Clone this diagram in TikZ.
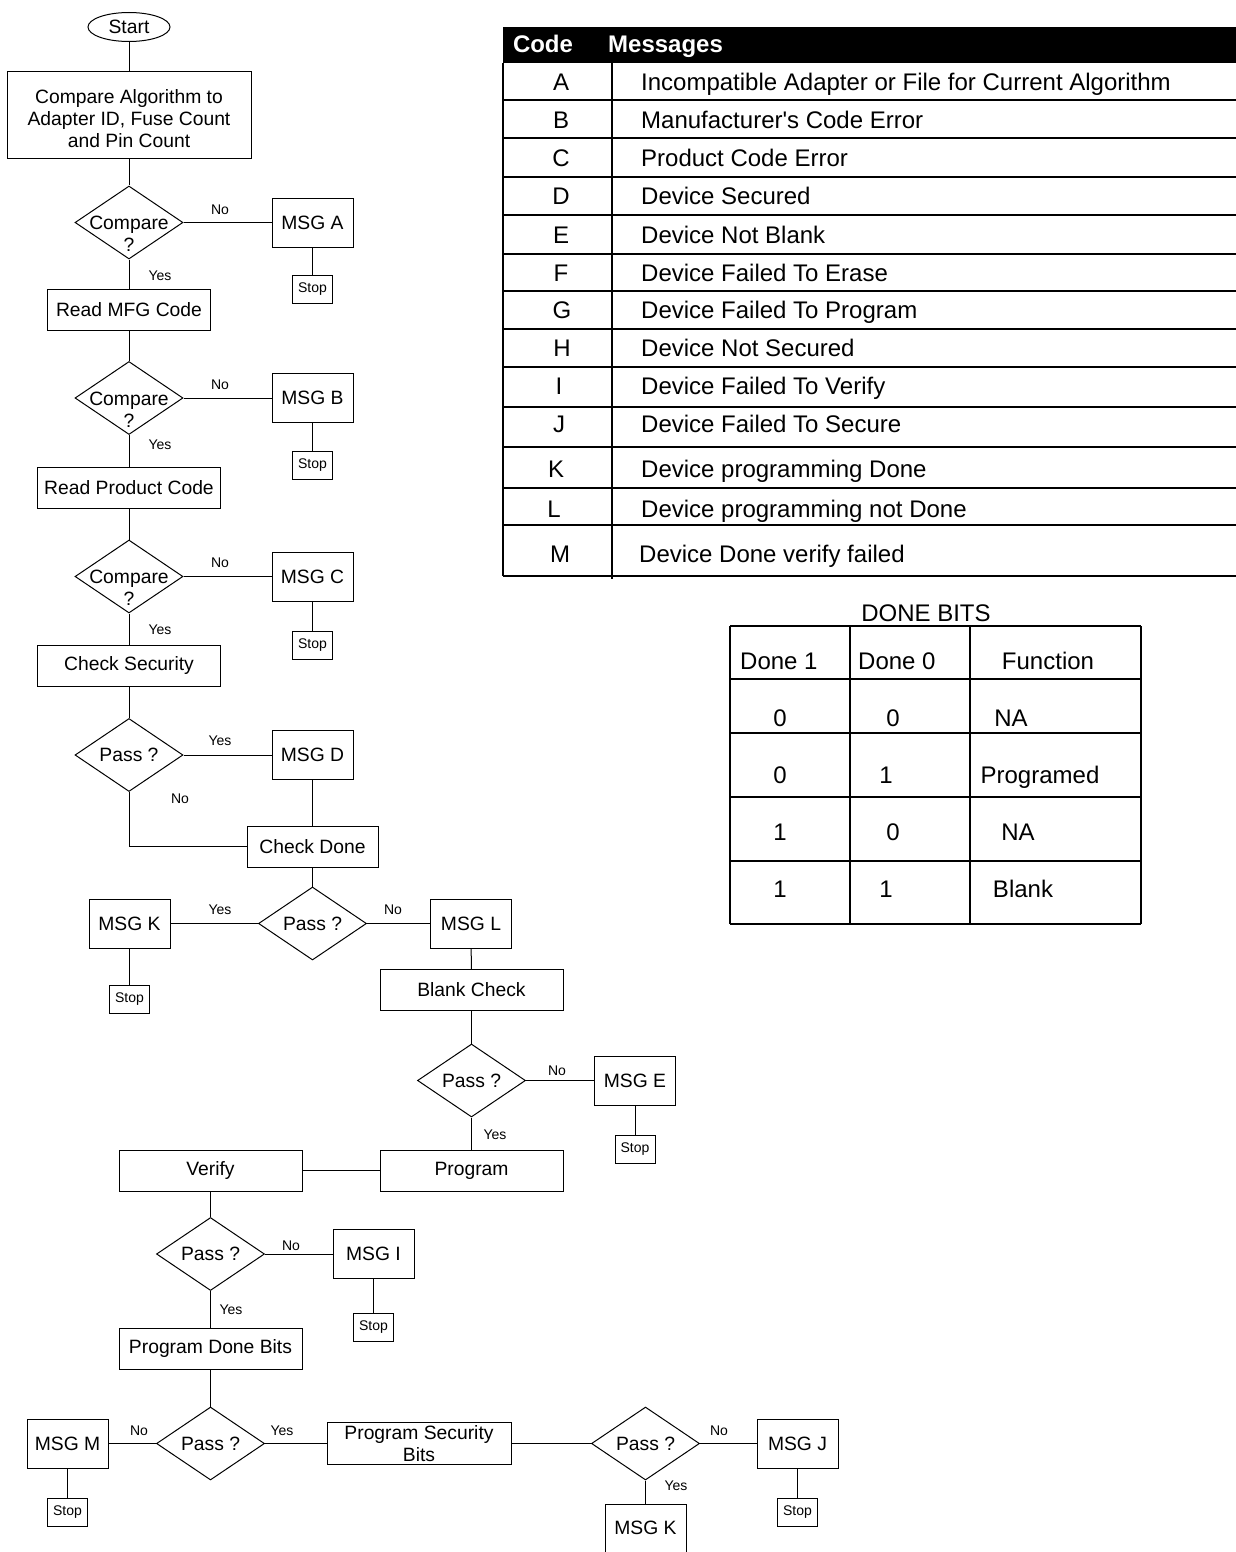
\documentclass[tikz,border=0pt]{standalone}
\usepackage{fontspec}
\setmainfont{Liberation Sans}[Ligatures=TeXOff]
\usetikzlibrary{shapes.geometric}
\begin{document}
\begin{tikzpicture}[x=1pt,y=-1pt,
  every node/.style={inner sep=0pt},
  fc/.style={font=\fontsize{19.3}{22}\selectfont},
  box/.style={draw, line width=1pt, rectangle, fc, align=center},
  stopbox/.style={draw, line width=1pt, rectangle, font=\fontsize{14}{16}\selectfont, minimum width=40pt, minimum height=28pt},
  msgbox/.style={box, minimum width=81pt, minimum height=49pt},
  widebox/.style={box, minimum width=183pt, minimum height=41pt},
  dia/.style={draw, line width=1pt, diamond, minimum width=108pt, minimum height=73pt},
  dtext/.style={fc, align=center},
  lbl/.style={font=\fontsize{14}{16}\selectfont},
  wlbl/.style={lbl, fill=white, inner sep=3pt},
  conn/.style={line width=1pt},
  tb/.style={font=\fontsize{24}{28}\selectfont},
  tline/.style={line width=1.5pt},
]
\useasboundingbox (0,0) rectangle (1236,1552);

% ---------------- flowchart ----------------
\node[draw, line width=1pt, ellipse, minimum width=82pt, minimum height=29pt, fc] (start) at (129,27) {Start};
\node[box, minimum width=244pt, minimum height=86pt] (cmpalg) at (129,115) {};
\node[dtext] (cmpalgt) at (129,119) {Compare Algorithm to\\Adapter ID, Fuse Count\\and Pin Count};

\node[dia] (d1) at (129,222.5) {};
\node[dtext] (d1t) at (129,234) {Compare\\?};
\node[msgbox] (msga) at (312.5,222.5) {MSG A};
\node[stopbox] (stopa) at (312.5,289) {Stop};
\node[box, minimum width=163pt, minimum height=41pt] (readmfg) at (129,309.5) {Read MFG Code};

\node[dia] (d2) at (129,398) {};
\node[dtext] (d2t) at (129,409.5) {Compare\\?};
\node[msgbox] (msgb) at (312.5,398) {MSG B};
\node[stopbox] (stopb) at (312.5,465) {Stop};
\node[widebox] (readprod) at (129,488) {Read Product Code};

\node[dia] (d3) at (129,576.5) {};
\node[dtext] (d3t) at (129,588) {Compare\\?};
\node[msgbox] (msgc) at (312.5,576.5) {MSG C};
\node[stopbox] (stopc) at (312.5,645) {Stop};
\node[widebox] (checksec) at (129,666) {Check Security};

\node[dia] (d4) at (129,755) {};
\node[dtext] (d4t) at (129,755) {Pass ?};
\node[msgbox] (msgd) at (312.5,755) {MSG D};
\node[box, minimum width=131pt, minimum height=41pt] (cdone) at (312.5,846.5) {Check Done};

\node[dia] (d5) at (312.5,923.5) {};
\node[dtext] (d5t) at (312.5,923.5) {Pass ?};
\node[msgbox] (msgk1) at (129.5,923.5) {MSG K};
\node[stopbox] (stopk) at (129.5,999.5) {Stop};
\node[msgbox] (msgl) at (471,923.5) {MSG L};
\node[widebox] (blank) at (471.5,990) {Blank Check};

\node[dia] (d6) at (471.5,1080.5) {};
\node[dtext] (d6t) at (471.5,1080.5) {Pass ?};
\node[msgbox] (msge) at (635,1080.5) {MSG E};
\node[stopbox] (stope) at (635,1149.5) {Stop};
\node[widebox] (program) at (471.5,1170.5) {Program};
\node[widebox] (verify) at (210.5,1170.5) {Verify};

\node[dia] (d7) at (210.5,1254) {};
\node[dtext] (d7t) at (210.5,1254) {Pass ?};
\node[msgbox] (msgi) at (373.5,1254) {MSG I};
\node[stopbox] (stopi) at (373.5,1327.5) {Stop};
\node[widebox] (pdb) at (210.5,1348.5) {Program Done Bits};

\node[dia] (d8) at (210.5,1443.5) {};
\node[dtext] (d8t) at (210.5,1443.5) {Pass ?};
\node[msgbox] (msgm) at (67.5,1443.5) {MSG M};
\node[stopbox] (stopm) at (67.5,1512) {Stop};
\node[box, minimum width=184pt, minimum height=42pt] (psb) at (419,1443.5) {Program Security\\Bits};

\node[dia] (d9) at (645.5,1443.5) {};
\node[dtext] (d9t) at (645.5,1443.5) {Pass ?};
\node[msgbox] (msgj) at (797.5,1443.5) {MSG J};
\node[stopbox] (stopj) at (797.5,1512) {Stop};
\node[msgbox, minimum height=48pt] (msgk2) at (645.5,1528) {MSG K};

% connectors
\draw[conn] (start) -- (cmpalg);
\draw[conn] (cmpalg) -- (d1);
\draw[conn] (d1) -- (msga);
\draw[conn] (msga) -- (stopa);
\draw[conn] (d1) -- (readmfg);
\draw[conn] (readmfg) -- (d2);
\draw[conn] (d2) -- (msgb);
\draw[conn] (msgb) -- (stopb);
\draw[conn] (d2) -- (readprod);
\draw[conn] (readprod) -- (d3);
\draw[conn] (d3) -- (msgc);
\draw[conn] (msgc) -- (stopc);
\draw[conn] (d3) -- (checksec);
\draw[conn] (checksec) -- (d4);
\draw[conn] (d4) -- (msgd);
\draw[conn] (msgd) -- (cdone);
\draw[conn] (d4.south) |- (cdone.west);
\draw[conn] (cdone) -- (d5);
\draw[conn] (d5) -- (msgk1);
\draw[conn] (msgk1) -- (stopk);
\draw[conn] (d5) -- (msgl);
\draw[conn] (msgl) -- (blank);
\draw[conn] (blank) -- (d6);
\draw[conn] (d6) -- (msge);
\draw[conn] (msge) -- (stope);
\draw[conn] (d6) -- (program);
\draw[conn] (program) -- (verify);
\draw[conn] (verify) -- (d7);
\draw[conn] (d7) -- (msgi);
\draw[conn] (msgi) -- (stopi);
\draw[conn] (d7) -- (pdb);
\draw[conn] (pdb) -- (d8);
\draw[conn] (d8) -- (msgm);
\draw[conn] (msgm) -- (stopm);
\draw[conn] (d8) -- (psb);
\draw[conn] (psb) -- (d9);
\draw[conn] (d9) -- (msgj);
\draw[conn] (msgj) -- (stopj);
\draw[conn] (d9) -- (msgk2);

% branch labels
\node[lbl] (l1n) at (220,210) {No};
\node[lbl] (l1y) at (160,276) {Yes};
\node[lbl] (l2n) at (220,385) {No};
\node[lbl] (l2y) at (160,445) {Yes};
\node[lbl] (l3n) at (220,563) {No};
\node[lbl] (l3y) at (160,630) {Yes};
\node[lbl] (l4y) at (220,741) {Yes};
\node[lbl] (l4n) at (180,799) {No};
\node[lbl] (l5y) at (220,910) {Yes};
\node[lbl] (l5n) at (393,910) {No};
\node[wlbl] (l6n) at (557,1071) {No};
\node[lbl] (l6y) at (495,1135) {Yes};
\node[wlbl] (l7n) at (291,1246) {No};
\node[lbl] (l7y) at (231,1310) {Yes};
\node[lbl] (l8n) at (139,1431) {No};
\node[lbl] (l8y) at (282,1431) {Yes};
\node[lbl] (l9n) at (719,1431) {No};
\node[lbl] (l9y) at (676,1486) {Yes};

% ---------------- message code table ----------------
\fill (503,27) rectangle (1236,63);
\node[tb, text=white, font=\fontsize{24}{28}\selectfont\bfseries, anchor=base] (hcode) at (543,52.5) {Code};
\node[tb, text=white, font=\fontsize{24}{28}\selectfont\bfseries, anchor=base west] (hmsg) at (608,52.5) {Messages};
\foreach \yy in {100,138,177,215,254,291,329,367,407,447,488,525,576}
  \draw[tline] (503,\yy) -- (1236,\yy);
\draw[tline] (503,63) -- (503,576);
\draw[tline] (612,63) -- (612,579);

\node[tb, anchor=base] (ca) at (561,90.5) {A};
\node[tb, anchor=base west] (ma) at (641,90.5) {Incompatible Adapter or File for Current Algorithm};
\node[tb, anchor=base] (cb) at (561,128.5) {B};
\node[tb, anchor=base west] (mb) at (641,128.5) {Manufacturer's Code Error};
\node[tb, anchor=base] (cc) at (561,166.5) {C};
\node[tb, anchor=base west] (mc) at (641,166.5) {Product Code Error};
\node[tb, anchor=base] (cd) at (561,204.5) {D};
\node[tb, anchor=base west] (md) at (641,204.5) {Device Secured};
\node[tb, anchor=base] (ce) at (561,243.5) {E};
\node[tb, anchor=base west] (me) at (641,243.5) {Device Not Blank};
\node[tb, anchor=base] (cf) at (561,281.5) {F};
\node[tb, anchor=base west] (mf) at (641,281.5) {Device Failed To Erase};
\node[tb, anchor=base] (cg) at (562,318.5) {G};
\node[tb, anchor=base west] (mg) at (641,318.5) {Device Failed To Program};
\node[tb, anchor=base] (ch) at (562,356.5) {H};
\node[tb, anchor=base west] (mh) at (641,356.5) {Device Not Secured};
\node[tb, anchor=base] (ci) at (559,394.5) {I};
\node[tb, anchor=base west] (mi) at (641,394.5) {Device Failed To Verify};
\node[tb, anchor=base] (cj) at (559,432.5) {J};
\node[tb, anchor=base west] (mj) at (641,432.5) {Device Failed To Secure};
\node[tb, anchor=base] (ck) at (556,477.5) {K};
\node[tb, anchor=base west] (mk) at (641,477.5) {Device programming Done};
\node[tb, anchor=base] (cl) at (554,517.5) {L};
\node[tb, anchor=base west] (ml) at (641,517.5) {Device programming not Done};
\node[tb, anchor=base] (cm) at (560,562.5) {M};
\node[tb, anchor=base west] (mm) at (639,562.5) {Device Done verify failed};

% ---------------- done bits table ----------------
\node[tb, anchor=base] (dbt) at (926,621.5) {DONE BITS};
\foreach \yy in {626,679,733,797,861,924}
  \draw[tline] (730,\yy) -- (1141,\yy);
\foreach \xx in {730,850,970,1141}
  \draw[tline] (\xx,626) -- (\xx,924);
\node[tb, anchor=base west] (h1) at (740,669.5) {Done 1};
\node[tb, anchor=base west] (h2) at (858,669.5) {Done 0};
\node[tb, anchor=base] (h3) at (1048,669.5) {Function};
\node[tb, anchor=base] (r1a) at (780,726.5) {0};
\node[tb, anchor=base] (r1b) at (893,726.5) {0};
\node[tb, anchor=base] (r1c) at (1011,726.5) {NA};
\node[tb, anchor=base] (r2a) at (780,783.5) {0};
\node[tb, anchor=base] (r2b) at (886,783.5) {1};
\node[tb, anchor=base] (r2c) at (1040,783.5) {Programed};
\node[tb, anchor=base] (r3a) at (780,840.5) {1};
\node[tb, anchor=base] (r3b) at (893,840.5) {0};
\node[tb, anchor=base] (r3c) at (1018,840.5) {NA};
\node[tb, anchor=base] (r4a) at (780,897.5) {1};
\node[tb, anchor=base] (r4b) at (886,897.5) {1};
\node[tb, anchor=base] (r4c) at (1023,897.5) {Blank};
\end{tikzpicture}
\end{document}
